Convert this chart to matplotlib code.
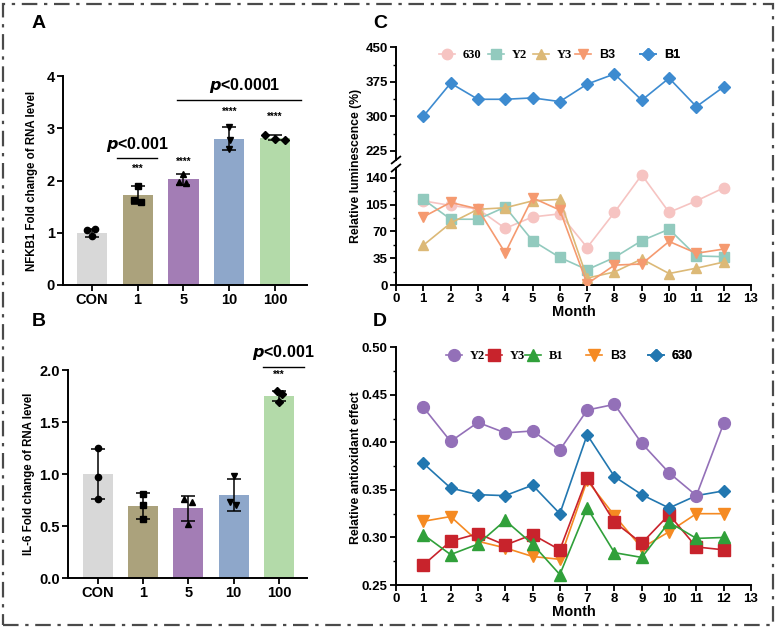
import matplotlib
matplotlib.use('Agg')
import matplotlib.pyplot as plt
from matplotlib.lines import Line2D
from matplotlib.patches import Rectangle
from matplotlib.ticker import MultipleLocator
from matplotlib.font_manager import FontProperties

plt.rcParams['font.family'] = ['Liberation Sans', 'DejaVu Sans']
plt.rcParams['font.weight'] = 'bold'
plt.rcParams['axes.labelweight'] = 'bold'

# ---------------- data: panels A and B ----------------
groups = ['CON', '1', '5', '10', '100']
bar_colors = ['#d8d8d8', '#aba27c', '#a37db5', '#8ea7ca', '#b3daa9']
point_markers = ['o', 's', '^', 'v', 'D']

nfkb1_mean = [1.00, 1.72, 2.02, 2.80, 2.82]
nfkb1_lo = [0.92, 1.55, 1.92, 2.58, 2.77]
nfkb1_hi = [1.07, 1.89, 2.12, 3.02, 2.87]
nfkb1_points = [[1.05, 1.07, 0.93], [1.90, 1.62, 1.58], [2.12, 1.97, 1.95],
                [3.03, 2.78, 2.60], [2.87, 2.80, 2.78]]
nfkb1_jitter = [[-0.11, 0.07, 0.0], [0.0, -0.07, 0.07], [0.0, -0.1, 0.06],
                [0.0, 0.02, 0.0], [-0.22, 0.0, 0.22]]

il6_mean = [1.00, 0.69, 0.67, 0.80, 1.75]
il6_lo = [0.76, 0.57, 0.55, 0.64, 1.70]
il6_hi = [1.24, 0.82, 0.79, 0.95, 1.80]
il6_points = [[1.25, 0.97, 0.76], [0.81, 0.70, 0.57], [0.76, 0.73, 0.52],
              [0.98, 0.73, 0.70], [1.80, 1.77, 1.69]]
il6_jitter = [[0.0, 0.0, 0.0], [0.0, 0.0, 0.0], [-0.09, 0.07, 0.0],
              [0.0, -0.08, 0.06], [-0.04, 0.07, 0.0]]

nfkb1_stars = ['', '***', '****', '****', '****']
nfkb1_star_y = [0, 2.22, 2.36, 3.31, 3.21]
il6_stars = ['', '', '', '', '***']
il6_star_y = [0, 0, 0, 0, 1.95]

# ---------------- data: panel C ----------------
months = [1, 2, 3, 4, 5, 6, 7, 8, 9, 10, 11, 12]
lum_630 = [110, 104, 99.5, 74, 89, 93, 49, 95, 144, 95, 110, 127]
lum_Y2 = [112, 86, 86, 102, 58, 36, 20, 36, 58, 73, 38, 37]
lum_Y3 = [52, 81, 99, 101, 110, 112, 9, 17, 34, 15, 22, 30]
lum_B3 = [89, 108, 99.5, 42, 114, 98, 1.5, 26, 27.5, 57, 41.5, 47]
lum_B1 = [300, 372, 337, 337, 340, 332, 370, 392, 335, 383, 321, 364]

# ---------------- data: panel D ----------------
anti_Y2 = [0.437, 0.401, 0.421, 0.410, 0.412, 0.392, 0.434, 0.440, 0.399, 0.368, 0.344, 0.420]
anti_Y3 = [0.271, 0.296, 0.304, 0.292, 0.303, 0.287, 0.363, 0.316, 0.294, 0.324, 0.290, 0.287]
anti_B1 = [0.303, 0.282, 0.293, 0.318, 0.293, 0.261, 0.331, 0.284, 0.279, 0.316, 0.299, 0.300]
anti_B3 = [0.317, 0.322, 0.296, 0.289, 0.280, 0.277, 0.360, 0.323, 0.289, 0.306, 0.325, 0.325]
anti_630 = [0.378, 0.352, 0.345, 0.344, 0.355, 0.325, 0.408, 0.364, 0.345, 0.331, 0.344, 0.349]

W, H = 777, 629
fig = plt.figure(figsize=(W / 100, H / 100), dpi=100)


def frac_rect(left, top, right, bottom):
    return [left / W, 1 - bottom / H, (right - left) / W, (bottom - top) / H]


def style_axes(ax, tick_size):
    for s in ['top', 'right']:
        ax.spines[s].set_visible(False)
    for s in ['left', 'bottom']:
        ax.spines[s].set_linewidth(1.4)
    ax.tick_params(which='major', direction='out', length=4, width=1.3,
                   labelsize=tick_size, pad=2)
    ax.tick_params(which='minor', direction='out', length=2.5, width=1.0)
    for lab in ax.get_xticklabels() + ax.get_yticklabels():
        lab.set_fontweight('bold')


def bar_panel(ax, means, lo, hi, pts, jit, stars, star_y, ylim, yticks, fmt):
    x = list(range(len(groups)))
    ax.bar(x, means, width=0.66, color=bar_colors, edgecolor='none', zorder=1)
    ax.errorbar(x, means, yerr=[[m - l for m, l in zip(means, lo)],
                                [h - m for m, h in zip(means, hi)]],
                fmt='none', ecolor='black', elinewidth=1.1, capsize=5,
                capthick=1.1, zorder=3)
    for i in x:
        ax.plot([i + j for j in jit[i]], pts[i], linestyle='none',
                marker=point_markers[i], color='black', ms=4.5, zorder=4)
        if stars[i]:
            ax.text(i, star_y[i], stars[i], ha='center', va='center',
                    fontsize=7, fontweight='bold')
    ax.set_xticks(x)
    ax.set_xticklabels(groups)
    ax.set_ylim(*ylim)
    ax.set_yticks(yticks)
    ax.set_yticklabels([fmt.format(v) for v in yticks])
    style_axes(ax, 10.5)


# Panel A
axA = fig.add_axes(frac_rect(63, 76, 307, 285))
bar_panel(axA, nfkb1_mean, nfkb1_lo, nfkb1_hi, nfkb1_points, nfkb1_jitter,
          nfkb1_stars, nfkb1_star_y, (0, 4), [0, 1, 2, 3, 4], '{:g}')
axA.set_xlim(-0.63, 4.7)
axA.plot([0.55, 1.42], [2.43, 2.43], color='black', lw=1.0)
axA.text(0.985, 2.69, r'$\boldsymbol{p}$<0.001', ha='center', va='center', fontsize=11.5)
axA.plot([1.86, 4.57], [3.54, 3.54], color='black', lw=1.0)
axA.text(3.35, 3.82, r'$\boldsymbol{p}$<0.0001', ha='center', va='center', fontsize=11.5)

# Panel B
axB = fig.add_axes(frac_rect(68, 370, 307, 578))
bar_panel(axB, il6_mean, il6_lo, il6_hi, il6_points, il6_jitter,
          il6_stars, il6_star_y, (0, 2.0), [0, 0.5, 1.0, 1.5, 2.0], '{:.1f}')
axB.set_xlim(-0.66, 4.62)
axB.plot([3.65, 4.55], [2.03, 2.03], color='black', lw=1.0, clip_on=False)
axB.text(4.1, 2.17, r'$\boldsymbol{p}$<0.001', ha='center', va='center',
         fontsize=11.5, clip_on=False)

plt.rcParams['mathtext.fontset'] = 'custom'
plt.rcParams['mathtext.bf'] = 'Liberation Sans:bold:italic'

fig.text(32 / W, 1 - 181 / H, 'NFKB1 Fold change of RNA level', rotation=90,
         ha='center', va='center', fontsize=8.3, fontweight='bold')
fig.text(29 / W, 1 - 474 / H, 'IL-6 Fold change of RNA level', rotation=90,
         ha='center', va='center', fontsize=8.3, fontweight='bold')

# Panel C (broken axis)
c_colors = {'630': '#f6c4c2', 'Y2': '#92cabe', 'Y3': '#dcb977', 'B3': '#f59a70', 'B1': '#3d8bd0'}
c_markers = {'630': 'o', 'Y2': 's', 'Y3': '^', 'B3': 'v', 'B1': 'D'}
c_series = {'630': lum_630, 'Y2': lum_Y2, 'Y3': lum_Y3, 'B3': lum_B3, 'B1': lum_B1}
c_ms = {'630': 7.5, 'Y2': 7.5, 'Y3': 7.5, 'B3': 7.5, 'B1': 6.5}

axCt = fig.add_axes(frac_rect(396, 47.3, 751, 160))
axCb = fig.add_axes(frac_rect(396, 168, 751, 285))
for ax in (axCt, axCb):
    for name in ['630', 'Y2', 'Y3', 'B3', 'B1']:
        ax.plot(months, c_series[name], color=c_colors[name], marker=c_markers[name],
                ms=c_ms[name], lw=1.2, zorder=3)
    ax.set_xlim(0, 13)
axCt.set_ylim(205, 450)
axCt.set_yticks([225, 300, 375, 450])
axCt.yaxis.set_minor_locator(MultipleLocator(37.5))
axCb.set_ylim(0, 153)
axCb.set_yticks([0, 35, 70, 105, 140])
axCb.yaxis.set_minor_locator(MultipleLocator(17.5))
axCb.set_xticks(range(0, 14))
style_axes(axCt, 9.5)
style_axes(axCb, 9.5)
axCt.spines['bottom'].set_visible(False)
axCt.tick_params(axis='x', which='both', bottom=False, labelbottom=False)
axCb.set_xlabel('Month', fontsize=10.5, fontweight='bold', labelpad=0)
# break marks
for ax, yy in ((axCt, 0.0), (axCb, 1.0)):
    ax.plot([-0.012, 0.012], [yy - 0.03, yy + 0.03], transform=ax.transAxes,
            color='black', lw=1.3, clip_on=False)
fig.text(356 / W, 1 - 166 / H, 'Relative luminescence (%)', rotation=90,
         ha='center', va='center', fontsize=8.8, fontweight='bold')

serif_fp = FontProperties(family='Liberation Serif', weight='bold', size=9)
sans_fp = FontProperties(family='Liberation Sans', weight='bold', size=9)


def single_legend(ax, handle, label, xf, yf, fp):
    leg = ax.legend(handles=[handle], labels=[label], loc='center left',
                    bbox_to_anchor=(xf, yf), frameon=False, handlelength=1.3,
                    handletextpad=0.6, borderpad=0, borderaxespad=0, prop=fp)
    ax.add_artist(leg)


c_leg = [('630', 0.121, serif_fp), ('Y2', 0.259, serif_fp), ('Y3', 0.386, serif_fp),
         ('B3', 0.504, sans_fp), ('B1', 0.687, sans_fp)]
for name, xf, fp in c_leg:
    h = Line2D([], [], color=c_colors[name], marker=c_markers[name], ms=c_ms[name], lw=1.2)
    single_legend(axCt, h, name, xf, 0.932, fp)

# Panel D
d_colors = {'Y2': '#9370b8', 'Y3': '#c8232c', 'B1': '#30a03a', 'B3': '#f58a22', '630': '#2277b0'}
d_markers = {'Y2': 'o', 'Y3': 's', 'B1': '^', 'B3': 'v', '630': 'D'}
d_series = {'Y2': anti_Y2, 'Y3': anti_Y3, 'B1': anti_B1, 'B3': anti_B3, '630': anti_630}
d_ms = {'Y2': 8.5, 'Y3': 8, 'B1': 8, 'B3': 8, '630': 6.5}

axD = fig.add_axes(frac_rect(396, 347.3, 751, 585))
for name in ['B3', 'Y3', 'B1', '630', 'Y2']:
    axD.plot(months, d_series[name], color=d_colors[name], marker=d_markers[name],
             ms=d_ms[name], lw=1.2, zorder=3)
axD.set_xlim(0, 13)
axD.set_ylim(0.25, 0.50)
axD.set_xticks(range(0, 14))
axD.set_yticks([0.25, 0.30, 0.35, 0.40, 0.45, 0.50])
axD.set_yticklabels(['0.25', '0.30', '0.35', '0.40', '0.45', '0.50'])
axD.yaxis.set_minor_locator(MultipleLocator(0.025))
style_axes(axD, 9.5)
axD.set_xlabel('Month', fontsize=10.5, fontweight='bold', labelpad=0)
fig.text(356 / W, 1 - 468 / H, 'Relative antioxidant effect', rotation=90,
         ha='center', va='center', fontsize=8.8, fontweight='bold')

d_leg = [('Y2', 0.141, serif_fp), ('Y3', 0.254, serif_fp), ('B1', 0.363, serif_fp),
         ('B3', 0.535, sans_fp), ('630', 0.710, sans_fp)]
for name, xf, fp in d_leg:
    h = Line2D([], [], color=d_colors[name], marker=d_markers[name], ms=d_ms[name], lw=1.2)
    single_legend(axD, h, name, xf, 0.963, fp)

# panel letters
for lab, px, py in (('A', 39, 23), ('C', 380, 23), ('B', 39, 322), ('D', 380, 322)):
    fig.text(px / W, 1 - py / H, lab, ha='center', va='center', fontsize=14,
             fontweight='bold')

# dash-dot border
fig.patches.append(Rectangle((3 / W, 4 / H), (W - 7) / W, (H - 8) / H,
                             transform=fig.transFigure, fill=False,
                             edgecolor='#4a4a4a', lw=1.6,
                             linestyle=(0, (7, 3, 1.5, 3))))

fig.savefig('out.png', dpi=100)
